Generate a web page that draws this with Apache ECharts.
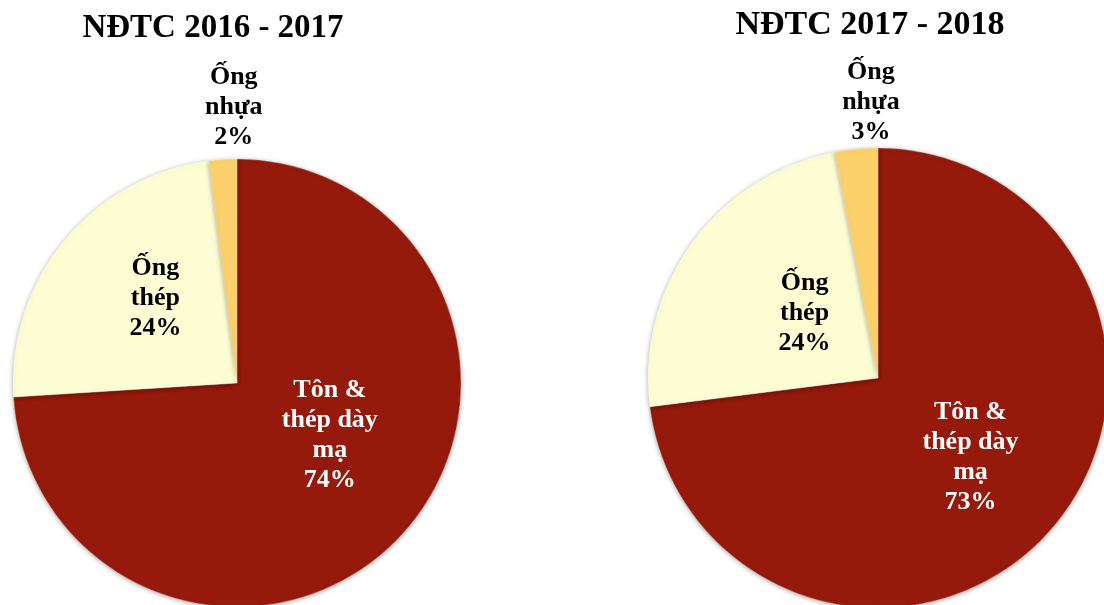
<!DOCTYPE html>
<html>
<head>
<meta charset="utf-8">
<script src="https://cdn.jsdelivr.net/npm/echarts@6/dist/echarts.min.js"></script>
<style>html,body{margin:0;padding:0;background:#fff}#c{width:1104px;height:605px}</style>
</head>
<body>
<div id="c"></div>
<script>
var categories = ['Tôn &\nthép dày\nmạ', 'Ống\nthép', 'Ống\nnhựa'];
var titles = ['NĐTC 2016 - 2017', 'NĐTC 2017 - 2018'];
var values2016 = [74, 24, 2];
var values2017 = [73, 24, 3];
var colors = ['#951A0C', '#FDFDD3', '#FCD06A'];
var labelColors = ['#ffffff', '#000000', '#000000'];

var chart = echarts.init(document.getElementById('c'));
var font = '"Liberation Serif", "Times New Roman", serif';

function makeData(vals) {
  return vals.map(function (v, i) {
    return {
      name: categories[i],
      value: v,
      itemStyle: { color: colors[i] },
      label: { color: labelColors[i] }
    };
  });
}

function makeSeries(vals, center, radius, offsets) {
  return {
    type: 'pie',
    center: center,
    radius: radius,
    startAngle: 90,
    clockwise: true,
    silent: true,
    data: makeData(vals),
    itemStyle: {
      borderColor: 'rgba(255,255,255,0.25)',
      borderWidth: 1,
      shadowBlur: 5,
      shadowColor: 'rgba(0,0,0,0.35)',
      shadowOffsetY: 1
    },
    label: {
      show: true,
      position: 'inside',
      formatter: '{b}\n{c}%',
      fontFamily: font,
      fontWeight: 'bold',
      fontSize: 26,
      lineHeight: 30,
      align: 'center'
    },
    labelLine: { show: false },
    labelLayout: function (p) {
      return { dx: offsets[p.dataIndex][0], dy: offsets[p.dataIndex][1] };
    }
  };
}

chart.setOption({
  animation: false,
  title: [
    { text: titles[0], left: 208, top: 7, textAlign: 'center',
      textStyle: { fontFamily: font, fontWeight: 'bold', fontSize: 33, color: '#000' } },
    { text: titles[1], left: 865, top: 3, textAlign: 'center',
      textStyle: { fontFamily: font, fontWeight: 'bold', fontSize: 34, color: '#000' } }
  ],
  series: [
    makeSeries(values2016, [237, 383], 224, [[9, -26], [7, -11], [4, -161]]),
    makeSeries(values2017, [878, 378], 230, [[4, 1], [22, 5], [4, -158]])
  ]
});
</script>
</body>
</html>
